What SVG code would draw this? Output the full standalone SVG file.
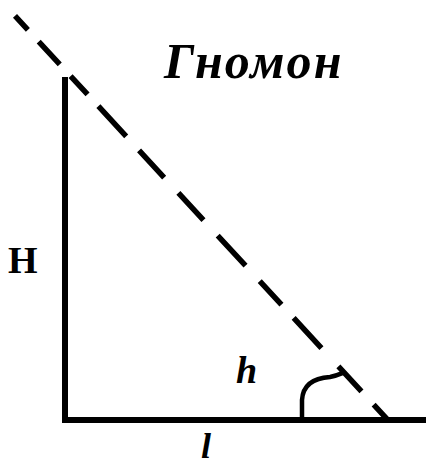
<svg xmlns="http://www.w3.org/2000/svg" width="426" height="466" viewBox="0 0 426 466">
  <style>
    .ln { fill: none; stroke: #000; stroke-width: 6; }
    .dash { fill: none; stroke: #000; stroke-width: 5.5; stroke-dasharray: 19 16 31 16 25 16 41 19 37 21 37 21 41 21 32 18 41 25 34 18 40 10; }
    .arc { fill: none; stroke: #000; stroke-width: 4.5; }
    .lbl { font-family: "Liberation Serif", "Times New Roman", serif; font-weight: bold; fill: #000; }
    .it { font-style: italic; }
  </style>
  <rect width="426" height="466" fill="#fff"/>
  <g id="gnomon">
    <line class="ln" x1="65" y1="77" x2="65" y2="423"/>
    <line class="ln" x1="62" y1="420" x2="426" y2="420"/>
  </g>
  <g id="connectors">
    <path class="dash" d="M15,15.8 L388,420.2"/>
    <path class="arc" d="M302,420 L302,400 C303,384 314,378 330,377 C336,376 340,374 345,372"/>
  </g>
  <g id="title"><text class="lbl it" x="164" y="78" font-size="50" letter-spacing="2.2">Гномон</text></g>
  <g id="label-H"><text class="lbl" x="8" y="273" font-size="38">H</text></g>
  <g id="label-h"><text class="lbl it" x="236" y="383" font-size="38">h</text></g>
  <g id="label-l"><text class="lbl it" x="201" y="458" font-size="36">l</text></g>
</svg>
